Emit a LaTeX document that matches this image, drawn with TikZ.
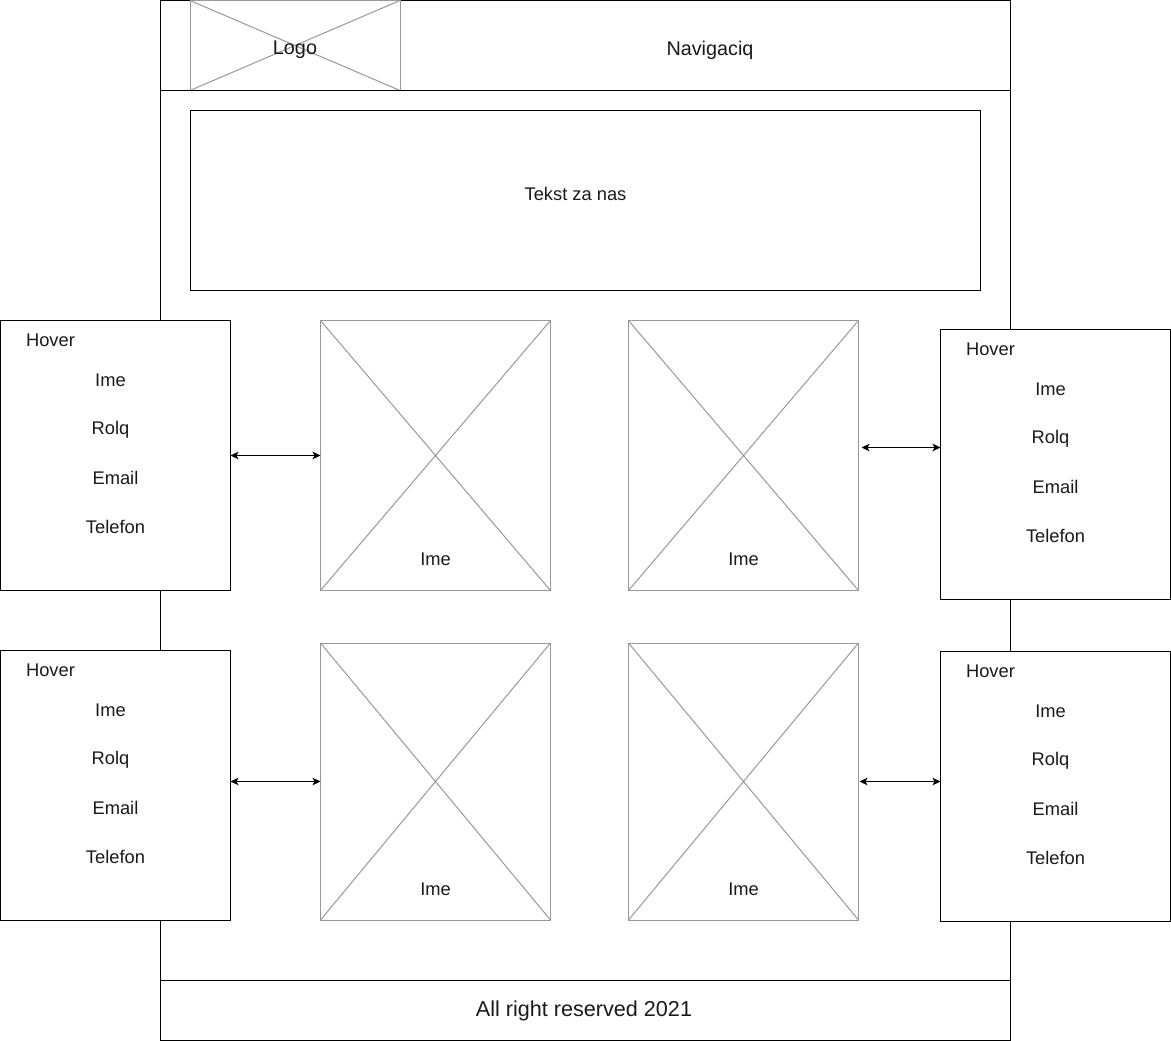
\documentclass[tikz,border=0pt]{standalone}
\usepackage{fontspec}
\setmainfont{Liberation Sans}
\usetikzlibrary{arrows.meta,calc}
\definecolor{phgray}{RGB}{153,153,153}
\definecolor{txtcol}{RGB}{26,26,26}
\begin{document}
\begin{tikzpicture}[x=1pt,y=-1pt,line width=1pt,
  box/.style={draw=black,fill=white,inner sep=0pt,outer sep=0pt,line width=1pt},
  ph/.style={draw=phgray,fill=white,inner sep=0pt,outer sep=0pt,line width=1pt},
  txt/.style={font=\fontsize{18.3}{22}\selectfont,text=txtcol,anchor=base,inner sep=0pt},
  bigtxt/.style={font=\fontsize{19.8}{24}\selectfont,text=txtcol,anchor=base,inner sep=0pt},
  foottxt/.style={font=\fontsize{21.6}{26}\selectfont,text=txtcol,anchor=base,inner sep=0pt},
  arr/.style={{Stealth[length=8pt,width=7.5pt,inset=2pt]}-{Stealth[length=8pt,width=7.5pt,inset=2pt]},line width=0.9pt,black}]
\useasboundingbox (0,0) rectangle (1171,1041);
% page frame
\node[box,minimum width=850pt,minimum height=1039.5pt] (page) at (585,520.25) {};
% logo placeholder
\node[ph,minimum width=210pt,minimum height=90pt] (logo) at (295,45.5) {};
\draw[phgray] (logo.north west) -- (logo.south east) (logo.south west) -- (logo.north east);
\coordinate (hdr) at (0,90.5);
\draw (page.west |- hdr) -- (page.east |- hdr);
\node[bigtxt] (logotxt) at (295,54.5) {Logo};
\node[bigtxt] (nav) at (710,55.5) {Navigaciq};
% about box
\node[box,minimum width=790pt,minimum height=180pt] (about) at (585.5,200.5) {};
\node[txt] (abouttxt) at (575.5,200.5) {Tekst za nas};
% footer
\node[box,minimum width=850pt,minimum height=60pt] (footer) at (585,1010.5) {};
\node[foottxt] (foottext) at (584,1016.5) {All right reserved 2021};
% image placeholders
\foreach \n/\cx/\cy/\h/\b in {p1/435.5/455.5/270/565.5, p2/743.5/455.5/270/565.5, p3/435.5/781.5/277/895.5, p4/743.5/781.5/277/895.5}{
  \node[ph,minimum width=230pt,minimum height=\h pt] (\n) at (\cx,\cy) {};
  \draw[phgray] (\n.north west) -- (\n.south east) (\n.south west) -- (\n.north east);
  \node[txt] (\n-ime) at (\cx,\b) {Ime};
}
% hover boxes
\foreach \n/\cx/\cy in {hl1/115.5/455.5, hr1/1055.5/464.5, hl2/115.5/785.5, hr2/1055.5/786.5}{
  \node[box,minimum width=230pt,minimum height=270pt] (\n) at (\cx,\cy) {};
  \node[txt] (\n-hov) at ($(\n.north west)+(50,25.5)$) {Hover};
  \node[txt] (\n-ime) at ($(\n.north west)+(110,66)$) {Ime};
  \node[txt] (\n-rol) at ($(\n.north west)+(110,114)$) {Rolq};
  \node[txt] (\n-eml) at ($(\n.north west)+(115,163.5)$) {Email};
  \node[txt] (\n-tel) at ($(\n.north west)+(115,213)$) {Telefon};
}
% connectors
\draw[arr] (hl1.east) -- (p1.west);
\coordinate (a2) at ($(p2.east)+(3,-8)$);
\draw[arr] (a2) -- (a2 -| hr1.west);
\draw[arr] (p3.west -| hl2.east) -- (p3.west);
\coordinate (a4) at ($(p4.east)+(1,0)$);
\draw[arr] (a4) -- (a4 -| hr2.west);
\end{tikzpicture}
\end{document}
